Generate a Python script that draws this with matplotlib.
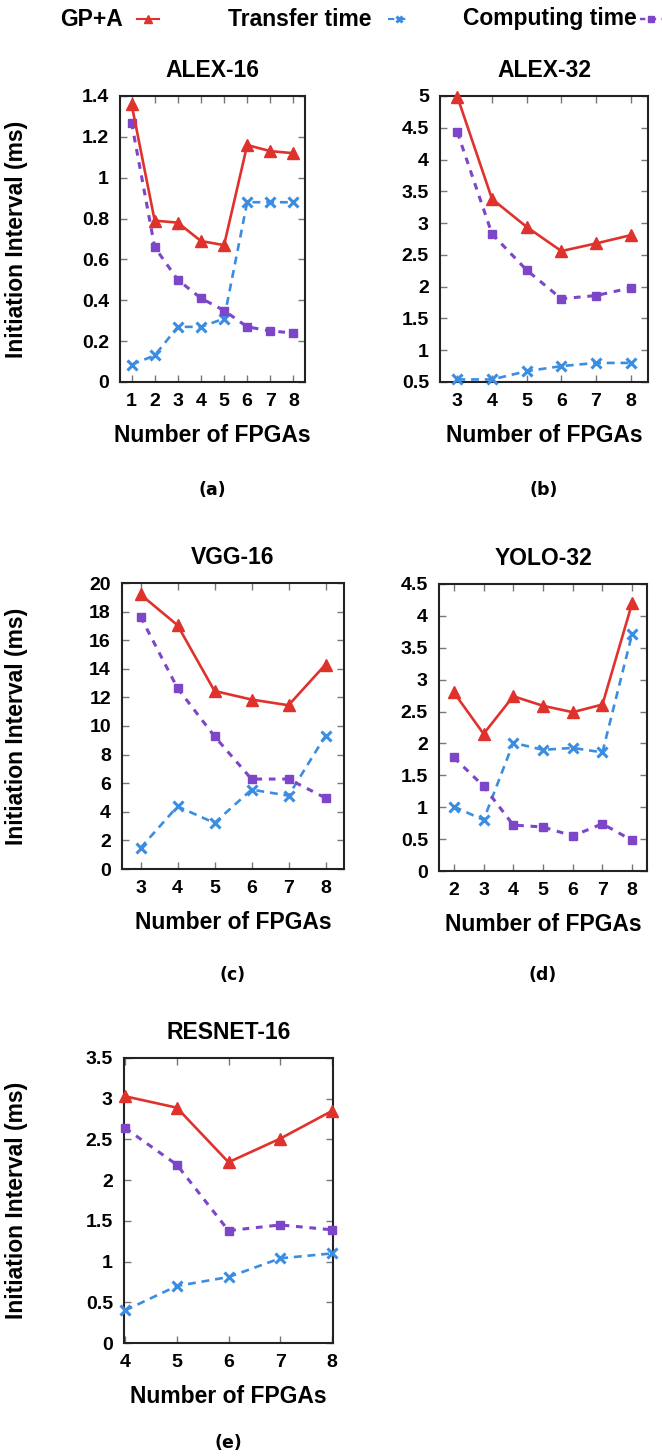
import matplotlib
matplotlib.use("Agg")
import matplotlib.pyplot as plt
from matplotlib.lines import Line2D
import numpy as np

plt.rcParams['font.family'] = ['Liberation Sans', 'DejaVu Sans']
plt.rcParams['font.weight'] = 'bold'

# data
alex16_x = [1, 2, 3, 4, 5, 6, 7, 8]
alex16_gpa = [1.36, 0.79, 0.78, 0.69, 0.67, 1.16, 1.13, 1.12]
alex16_transfer = [0.085, 0.13, 0.27, 0.27, 0.31, 0.88, 0.88, 0.88]
alex16_compute = [1.27, 0.66, 0.50, 0.41, 0.35, 0.27, 0.25, 0.24]

alex32_x = [3, 4, 5, 6, 7, 8]
alex32_gpa = [4.99, 3.38, 2.94, 2.56, 2.68, 2.81]
alex32_transfer = [0.54, 0.54, 0.67, 0.75, 0.80, 0.80]
alex32_compute = [4.43, 2.83, 2.26, 1.81, 1.86, 1.98]

vgg16_x = [3, 4, 5, 6, 7, 8]
vgg16_gpa = [19.2, 17.05, 12.45, 11.85, 11.45, 14.3]
vgg16_transfer = [1.47, 4.38, 3.22, 5.55, 5.13, 9.32]
vgg16_compute = [17.65, 12.65, 9.28, 6.29, 6.29, 4.97]

yolo32_x = [2, 3, 4, 5, 6, 7, 8]
yolo32_gpa = [2.80, 2.15, 2.74, 2.59, 2.49, 2.61, 4.20]
yolo32_transfer = [1.01, 0.80, 2.01, 1.90, 1.93, 1.86, 3.72]
yolo32_compute = [1.78, 1.33, 0.72, 0.69, 0.55, 0.74, 0.48]

resnet16_x = [4, 5, 6, 7, 8]
resnet16_gpa = [3.03, 2.89, 2.22, 2.51, 2.85]
resnet16_transfer = [0.40, 0.70, 0.81, 1.04, 1.10]
resnet16_compute = [2.64, 2.19, 1.38, 1.45, 1.39]

legend_labels = ['GP+A', 'Transfer time', 'Computing time']

RED = '#e0322d'
BLUE = '#3b8de2'
PURPLE = '#7d46c9'

styles = [
    dict(color=RED, ls='-', lw=1.9, marker='^', ms=9, zorder=4),
    dict(color=BLUE, ls=(0, (3, 2.2)), lw=1.9, marker='x', ms=6.5, mew=2.2, zorder=3),
    dict(color=PURPLE, ls=(0, (2.2, 2.2)), lw=2.2, marker='s', ms=6, zorder=3),
]

W, H = 662, 1456
fig = plt.figure(figsize=(W / 100, H / 100), dpi=100)


def box(l, t, r, b):
    return [l / W, 1 - b / H, (r - l) / W, (b - t) / H]


panels = [
    ('ALEX-16', '(a)', box(120, 96, 305, 382), alex16_x,
     [alex16_gpa, alex16_transfer, alex16_compute], (0, 1.4), 0.2, (0.5, 8.5)),
    ('ALEX-32', '(b)', box(440, 96, 648, 382), alex32_x,
     [alex32_gpa, alex32_transfer, alex32_compute], (0.5, 5), 0.5, (2.5, 8.5)),
    ('VGG-16', '(c)', box(122, 583, 344, 869), vgg16_x,
     [vgg16_gpa, vgg16_transfer, vgg16_compute], (0, 20), 2, (2.5, 8.5)),
    ('YOLO-32', '(d)', box(439, 584, 647, 871), yolo32_x,
     [yolo32_gpa, yolo32_transfer, yolo32_compute], (0, 4.5), 0.5, (1.5, 8.5)),
    ('RESNET-16', '(e)', box(124, 1058, 333, 1343), resnet16_x,
     [resnet16_gpa, resnet16_transfer, resnet16_compute], (0, 3.5), 0.5, (3.98, 8.02)),
]

for i, (title, tag, rect, xs, series, ylim, ystep, xlim) in enumerate(panels):
    ax = fig.add_axes(rect)
    for ys, st in zip(series, styles):
        ax.plot(xs, ys, clip_on=False, **st)
    ax.set_xlim(*xlim)
    ax.set_ylim(*ylim)
    ax.set_xticks(xs)
    yt = np.round(np.arange(ylim[0], ylim[1] + ystep / 2, ystep), 2)
    ax.set_yticks(yt)
    ax.set_yticklabels(['%g' % v for v in yt])
    ax.tick_params(direction='in', length=5, width=1, color='#777777',
                   top=True, right=True, labelsize=14, pad=8)
    for lab in ax.get_xticklabels() + ax.get_yticklabels():
        lab.set_fontweight('bold')
    for sp in ax.spines.values():
        sp.set_linewidth(1.5)
        sp.set_color('#222222')
    ax.set_title(title, fontsize=16.5, fontweight='bold', pad=14)
    ax.set_xlabel('Number of FPGAs', fontsize=16.5, fontweight='bold', labelpad=10)
    if i % 2 == 0:
        ax.set_ylabel('Initiation Interval (ms)', fontsize=16.5, fontweight='bold')
        ax.yaxis.set_label_coords((28 - rect[0] * W) / (rect[2] * W), 0.5)
    cx = rect[0] + rect[2] / 2
    tag_y = {0: 490, 1: 490, 2: 975, 3: 975, 4: 1443}[i]
    fig.text(cx, 1 - tag_y / H, tag, ha='center', va='center',
             fontsize=12.5, fontweight='bold', family='DejaVu Sans')

# legend across the top: label, then a short line sample with the marker in the middle
leg_y = 1 - 19 / H
text_right = [123, 372, 637]
mark_center = [148, 399, 651]
for lab, tr, mc, st in zip(legend_labels, text_right, mark_center, styles):
    fig.text(tr / W, leg_y, lab, ha='right', va='center', fontsize=16.5, fontweight='bold')
    kw = dict(st)
    kw.pop('zorder')
    kw['ms'] = kw['ms'] * 0.7
    kw['lw'] = kw['lw'] * 0.8
    fig.add_artist(Line2D([(mc - 11) / W, mc / W, (mc + 11) / W], [leg_y] * 3,
                          transform=fig.transFigure, markevery=[1], **kw))

fig.savefig('out.png', dpi=100)
